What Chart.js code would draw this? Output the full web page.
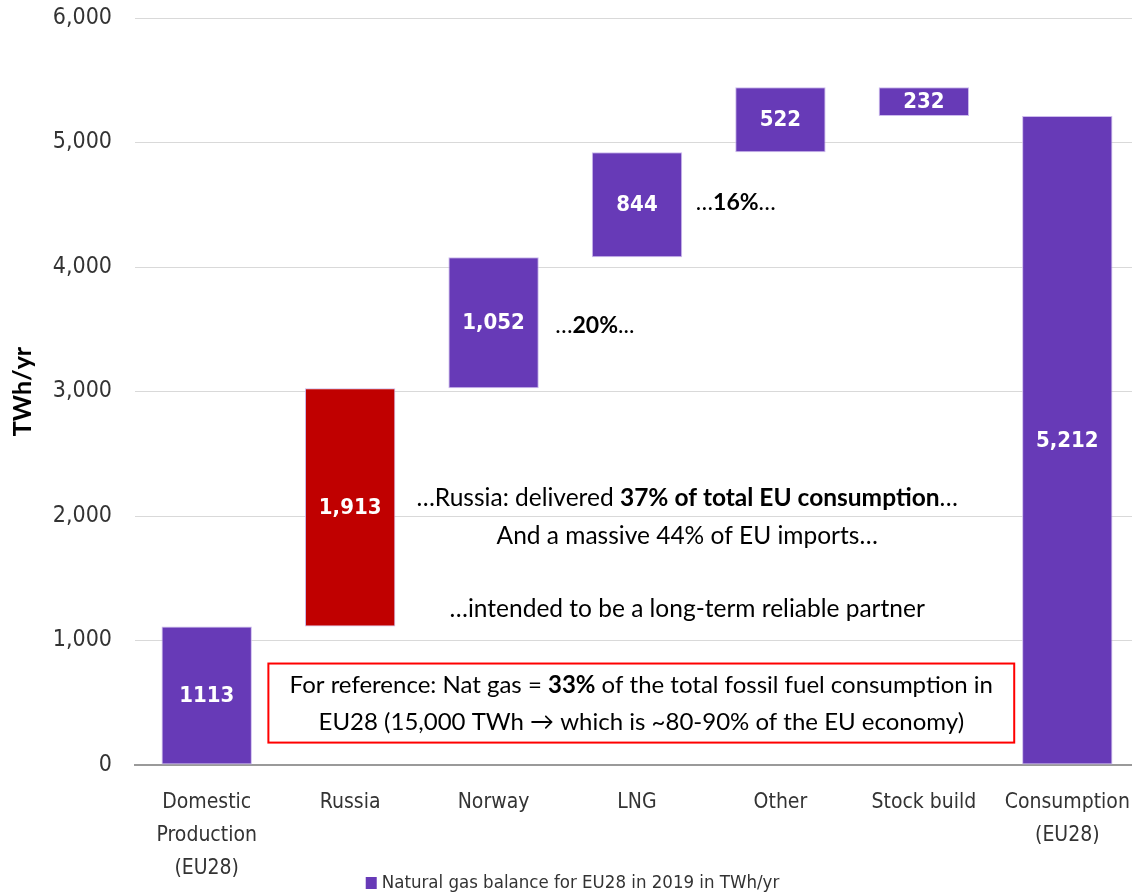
<!DOCTYPE html>
<html>
<head>
<meta charset="utf-8">
<script src="https://cdn.jsdelivr.net/npm/chart.js@4"></script>
<style>
  html, body { margin: 0; padding: 0; background: #fff; overflow: hidden; }
  #wrap { width: 1139px; height: 895px; position: relative; }
</style>
</head>
<body>
<div id="wrap"><canvas id="gasChart"></canvas></div>
<script>
// ---------------- data ----------------
const categories = [
    ["Domestic", "Production", "(EU28)"],
    "Russia",
    "Norway",
    "LNG",
    "Other",
    "Stock build",
    ["Consumption", "(EU28)"]
];
const barStart = [0, 1113, 3026, 4078, 4922, 5212, 0];
const barEnd = [1113, 3026, 4078, 4922, 5444, 5444, 5212];
const barLabels = ["1113", "1,913", "1,052", "844", "522", "232", "5,212"];
const barColors = ["#673ab7", "#c00000", "#673ab7", "#673ab7", "#673ab7", "#673ab7", "#673ab7"];
const yTickValues = [0, 1000, 2000, 3000, 4000, 5000, 6000];
const seriesName = "Natural gas balance for EU28 in 2019 in TWh/yr";

const condensed = "'DejaVu Sans Condensed', 'Liberation Sans Narrow', sans-serif";
const bodyFont = "Lato, 'Open Sans', sans-serif";

// ---------------- helpers ----------------
function drawRuns(ctx, runs, x, y, align, size) {
    // runs: [[text, bold], ...]
    let total = 0;
    runs.forEach(r => {
        ctx.font = (r[1] ? "bold " : "") + size + "px " + bodyFont;
        total += ctx.measureText(r[0]).width;
    });
    let cx = align === "center" ? x - total / 2 : x;
    runs.forEach(r => {
        ctx.font = (r[1] ? "bold " : "") + size + "px " + bodyFont;
        ctx.fillText(r[0], cx, y);
        cx += ctx.measureText(r[0]).width;
    });
}

const barLabelPlugin = {
    id: "barLabels",
    afterDatasetsDraw(chart) {
        const ctx = chart.ctx;
        const meta = chart.getDatasetMeta(0);
        ctx.save();
        ctx.fillStyle = "#ffffff";
        ctx.font = "bold 22px " + condensed;
        ctx.textAlign = "center";
        ctx.textBaseline = "middle";
        meta.data.forEach((bar, i) => {
            ctx.fillText(barLabels[i], bar.x, (bar.y + bar.base) / 2 + 1);
        });
        ctx.restore();
    }
};

// legend drawn by hand so it can sit beside the multi-line category labels
const legendPlugin = {
    id: "bottomLegend",
    afterDraw(chart) {
        const ctx = chart.ctx;
        const mid = chart.width / 2 + 3;
        ctx.save();
        ctx.font = "18.5px " + condensed;
        const w = ctx.measureText(seriesName).width;
        const startX = mid - (w + 16) / 2;
        const y = chart.height - 12;
        ctx.fillStyle = barColors[0];
        ctx.fillRect(startX, y - 6, 11, 12);
        ctx.fillStyle = "#333";
        ctx.textBaseline = "middle";
        ctx.fillText(seriesName, startX + 16, y);
        ctx.restore();
    }
};

const notesPlugin = {
    id: "notes",
    afterDraw(chart) {
        const ctx = chart.ctx;
        const xs = chart.scales.x;
        const ys = chart.scales.y;
        const px = v => xs.getPixelForValue(v);
        const py = v => ys.getPixelForValue(v);
        const fs = 24.5;
        ctx.save();
        ctx.fillStyle = "#000";
        ctx.textBaseline = "middle";
        ctx.textAlign = "left";

        drawRuns(ctx, [["\u2026", false], ["16%", true], ["\u2026", false]], px(3.41), py(4514), "left", 23);
        drawRuns(ctx, [["\u2026", false], ["20%", true], ["...", false]], px(2.43), py(3526), "left", 23);

        drawRuns(ctx, [["\u2026Russia: delivered ", false], ["37% of total EU consumption", true], ["\u2026", false]],
            px(3.35), py(2145), "center", fs);
        drawRuns(ctx, [["And a massive 44% of EU imports\u2026", false]], px(3.35), py(1839), "center", fs);
        drawRuns(ctx, [["\u2026intended to be a long-term reliable partner", false]], px(3.35), py(1253), "center", fs);

        // reference box
        const left = px(0.43), right = px(5.63);
        const top = py(815), bottom = py(180);
        ctx.strokeStyle = "#ff0000";
        ctx.lineWidth = 2;
        ctx.fillStyle = "#ffffff";
        ctx.fillRect(left, top, right - left, bottom - top);
        ctx.strokeRect(left, top, right - left, bottom - top);
        ctx.fillStyle = "#000";
        const mid = (left + right) / 2;
        drawRuns(ctx, [["For reference: Nat gas = ", false], ["33%", true], [" of the total fossil fuel consumption in", false]],
            mid, top + 22, "center", 24);
        drawRuns(ctx, [["EU28 (15,000 TWh \u2192 which is ~80-90% of the EU economy)", false]],
            mid, top + 59, "center", 24);
        ctx.restore();
    }
};

// ---------------- chart ----------------
new Chart(document.getElementById("gasChart"), {
    type: "bar",
    data: {
        labels: categories,
        datasets: [{
            label: seriesName,
            data: categories.map((c, i) => [barStart[i], barEnd[i]]),
            backgroundColor: barColors,
            borderColor: "rgba(200,180,235,0.9)",
            borderWidth: 1,
            borderSkipped: false,
            barPercentage: 0.63,
            categoryPercentage: 1
        }]
    },
    options: {
        responsive: true,
        maintainAspectRatio: false,
        animation: false,
        layout: { padding: { top: 18, right: 0, left: 0, bottom: 0 } },
        plugins: {
            tooltip: { enabled: false },
            legend: { display: false }
        },
        scales: {
            x: {
                grid: { display: false, drawTicks: false },
                border: { display: true, color: "#9a9a9a", width: 2 },
                ticks: {
                    color: "#333",
                    padding: 21,
                    maxRotation: 0,
                    autoSkip: false,
                    font: { family: condensed, size: 21, lineHeight: 1.57 }
                },
                afterFit: s => {
                    s.height = 130;
                    s.paddingLeft = 0;
                    s.paddingRight = 0;
                }
            },
            y: {
                min: 0,
                max: 6000,
                afterBuildTicks: s => { s.ticks = yTickValues.map(v => ({ value: v })); },
                grid: { color: "#d9d9d9", lineWidth: 1, drawTicks: false },
                border: { display: false },
                ticks: {
                    color: "#333",
                    padding: 23,
                    font: { family: condensed, size: 23 },
                    callback: v => v.toLocaleString("en-US")
                },
                title: {
                    display: true,
                    text: "TWh/yr",
                    color: "#000",
                    font: { family: bodyFont, size: 25, weight: "bold" },
                    padding: { top: 8, bottom: 0 }
                },
                afterFit: s => {
                    s.width = 135;
                    s.paddingTop = 0;
                    s.paddingBottom = 0;
                }
            }
        }
    },
    plugins: [barLabelPlugin, notesPlugin, legendPlugin]
});
</script>
</body>
</html>
